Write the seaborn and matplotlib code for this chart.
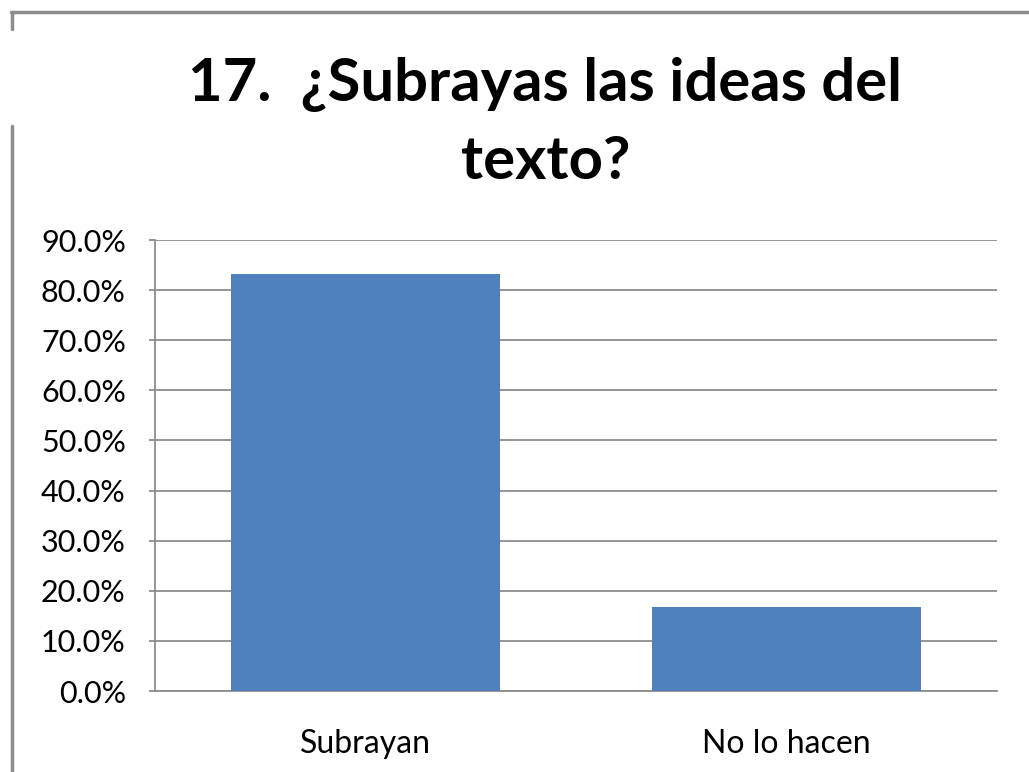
import matplotlib
matplotlib.use("Agg")
import matplotlib.pyplot as plt
import seaborn as sns
import pandas as pd
from matplotlib.lines import Line2D
from matplotlib.ticker import PercentFormatter

# Data
categories = ["Subrayan", "No lo hacen"]
values = [0.833, 0.167]
yticks = [0.0, 0.1, 0.2, 0.3, 0.4, 0.5, 0.6, 0.7, 0.8, 0.9]

df = pd.DataFrame({"categoria": categories, "valor": values})

sns.set_style("white")
plt.rcParams["font.family"] = ["Lato", "DejaVu Sans"]

fig = plt.figure(figsize=(10.29, 7.72), dpi=100)
ax = fig.add_axes([0.1506, 0.1049, 0.8183, 0.5842])

sns.barplot(data=df, x="categoria", y="valor", color="#4F81BD",
            saturation=1, width=0.64, linewidth=0, ax=ax, zorder=3)

ax.set_ylim(0, 0.9)
ax.set_yticks(yticks)
ax.yaxis.set_major_formatter(PercentFormatter(1.0, decimals=1))
ax.grid(axis="y", color="#8c8c8c", linewidth=1.3, zorder=0)
ax.set_axisbelow(True)
ax.set_xlabel("")
ax.set_ylabel("")

for side in ["top", "right"]:
    ax.spines[side].set_visible(False)
for side in ["left", "bottom"]:
    ax.spines[side].set_color("#8c8c8c")
    ax.spines[side].set_linewidth(1.3)

ax.tick_params(axis="y", labelsize=22, colors="#8c8c8c", labelcolor="black",
               length=4, width=1.3, direction="out", left=True, pad=17)
ax.tick_params(axis="x", labelsize=23, labelcolor="black", length=0, pad=27)

fig.text(0.53, 0.89, "17.  ¿Subrayas las ideas del", ha="center", va="center",
         fontsize=43, fontweight="bold", color="black")
fig.text(0.53, 0.79, "texto?", ha="center", va="center",
         fontsize=43, fontweight="bold", color="black")

# partial outer chart frame
frame_color = "#8c8c8c"
fig.add_artist(Line2D([0.0105, 1.0], [0.984, 0.984], transform=fig.transFigure,
                      color=frame_color, linewidth=2.5))
fig.add_artist(Line2D([0.0115, 0.0115], [0.984, 0.962], transform=fig.transFigure,
                      color=frame_color, linewidth=2.5))
fig.add_artist(Line2D([0.0115, 0.0115], [0.837, 0.0], transform=fig.transFigure,
                      color=frame_color, linewidth=2.5))

fig.savefig("out.png", dpi=100)
